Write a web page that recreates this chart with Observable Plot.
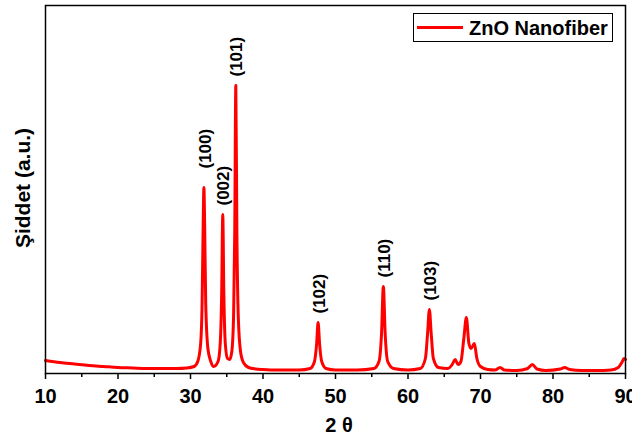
<!DOCTYPE html>
<html><head><meta charset="utf-8">
<script src="https://cdn.jsdelivr.net/npm/d3@7"></script>
<script src="https://cdn.jsdelivr.net/npm/@observablehq/plot@0.6"></script>
<style>body{margin:0;background:#fff;} svg{font-family:"Liberation Sans",Arial,sans-serif;}</style>
</head><body><div id="chart"></div>
<script>
// 2θ positions and intensities (a.u.)
const twoTheta = [10,12,14,16,18,20,22,24,26,28,29.5,30.5,31.0,31.4,31.6,31.75,31.85,31.95,32.1,32.4,32.8,33.2,33.8,34.1,34.3,34.45,34.6,34.8,35.1,35.4,35.7,35.95,36.1,36.25,36.4,36.6,36.9,37.3,38,39,40,42,45,46.5,47.1,47.4,47.6,47.8,48.1,48.7,50,53,55.3,56,56.35,56.6,56.85,57.2,58,60,61.7,62.4,62.7,62.95,63.2,63.5,64.2,65.5,66.1,66.5,66.9,67.3,67.7,68.05,68.4,68.7,69.15,69.5,70,71,72,72.7,73.3,75,76.5,77.15,77.8,79,81,81.6,82.3,84,86,88,89,89.5,89.8,90];
const intensity = [13,11,9.5,8,7,6,5.5,5,5,5,5.5,7,12,30,70,150,186,150,70,25,12,7,12,30,80,159,80,30,15,14,22,60,140,288,140,55,22,11,6,4.5,4,3.5,3.5,5,12,30,51,30,12,5,3.5,3.5,5,12,40,87,40,12,5,3.5,5,15,40,64,40,15,6,5,9,14,9,12,35,56,30,25,30,15,7,4,3.5,6,3.5,3,5,9,4.5,3,4.5,6,4,3,3,3.5,6,11,15,14];
// peak labels
const peakLabels = ["(100)","(002)","(101)","(102)","(110)","(103)"];
const peakPos = [31.85,34.45,36.25,47.6,56.6,62.95];
const peakInt = [186,159,288,51,87,64];
const majorTicks = [10,20,30,40,50,60,70,80,90];
const minorTicks = [15,25,35,45,55,65,75,85];

const data = twoTheta.map((x,i)=>({x, y:intensity[i]}));
const peaks = peakLabels.map((t,i)=>({t, x:peakPos[i], y:peakInt[i]}));
const lbl = {x:"x", y:"y", text:"t", rotate:-90, textAnchor:"start", lineAnchor:"middle", fontSize:17, fontWeight:"bold", fill:"black"};

const plot = Plot.plot({
  width: 632, height: 441,
  marginLeft: 45, marginRight: 7, marginTop: 5, marginBottom: 68,
  x: {domain:[10,90]},
  y: {domain:[0,368], axis:null},
  style: {fontFamily:"Liberation Sans, Arial, sans-serif", overflow:"visible"},
  marks: [
    Plot.line(data, {x:"x", y:"y", stroke:"#ff0000", strokeWidth:3, curve:"monotone-x"}),
    Plot.text(peaks.filter(d=>d.t!=="(100)"), {...lbl, dy:-9, dx:1}),
    Plot.text(peaks.filter(d=>d.t==="(100)"), {...lbl, dy:-19, dx:2}),
    Plot.axisX({ticks: majorTicks, tickSize:6, tickPadding:9, tickFormat: d=>String(d), stroke:"black", strokeWidth:1.5, label:null}),
    Plot.axisX({ticks: minorTicks, tickSize:4, tickFormat: ()=>"", stroke:"black", strokeWidth:1.5, label:null}),
    Plot.frame({stroke:"black", strokeWidth:1.5})
  ]
});
const svg = d3.select(plot);
svg.selectAll("g[aria-label='x-axis tick label']").attr("fill","black").attr("font-size",20).attr("font-weight","bold");
// axis titles
svg.append("text").attr("x",339).attr("y",432).attr("text-anchor","middle")
  .attr("font-size",20).attr("font-weight","bold").attr("fill","black").text("2 θ");
svg.append("text").attr("transform","translate(30,188) rotate(-90)").attr("text-anchor","middle")
  .attr("font-size",21).attr("font-weight","bold").attr("fill","black").text("Şiddet (a.u.)");
// legend
const lg = svg.append("g");
lg.append("rect").attr("x",413.5).attr("y",13.5).attr("width",199).attr("height",28).attr("fill","white").attr("stroke","black").attr("stroke-width",1);
lg.append("line").attr("x1",417).attr("x2",463).attr("y1",27.5).attr("y2",27.5).attr("stroke","#ff0000").attr("stroke-width",3);
lg.append("text").attr("x",469).attr("y",34.5).attr("text-anchor","start").attr("font-size",20).attr("font-weight","bold").attr("fill","black").text("ZnO Nanofiber");
document.getElementById("chart").appendChild(plot);
</script></body></html>
